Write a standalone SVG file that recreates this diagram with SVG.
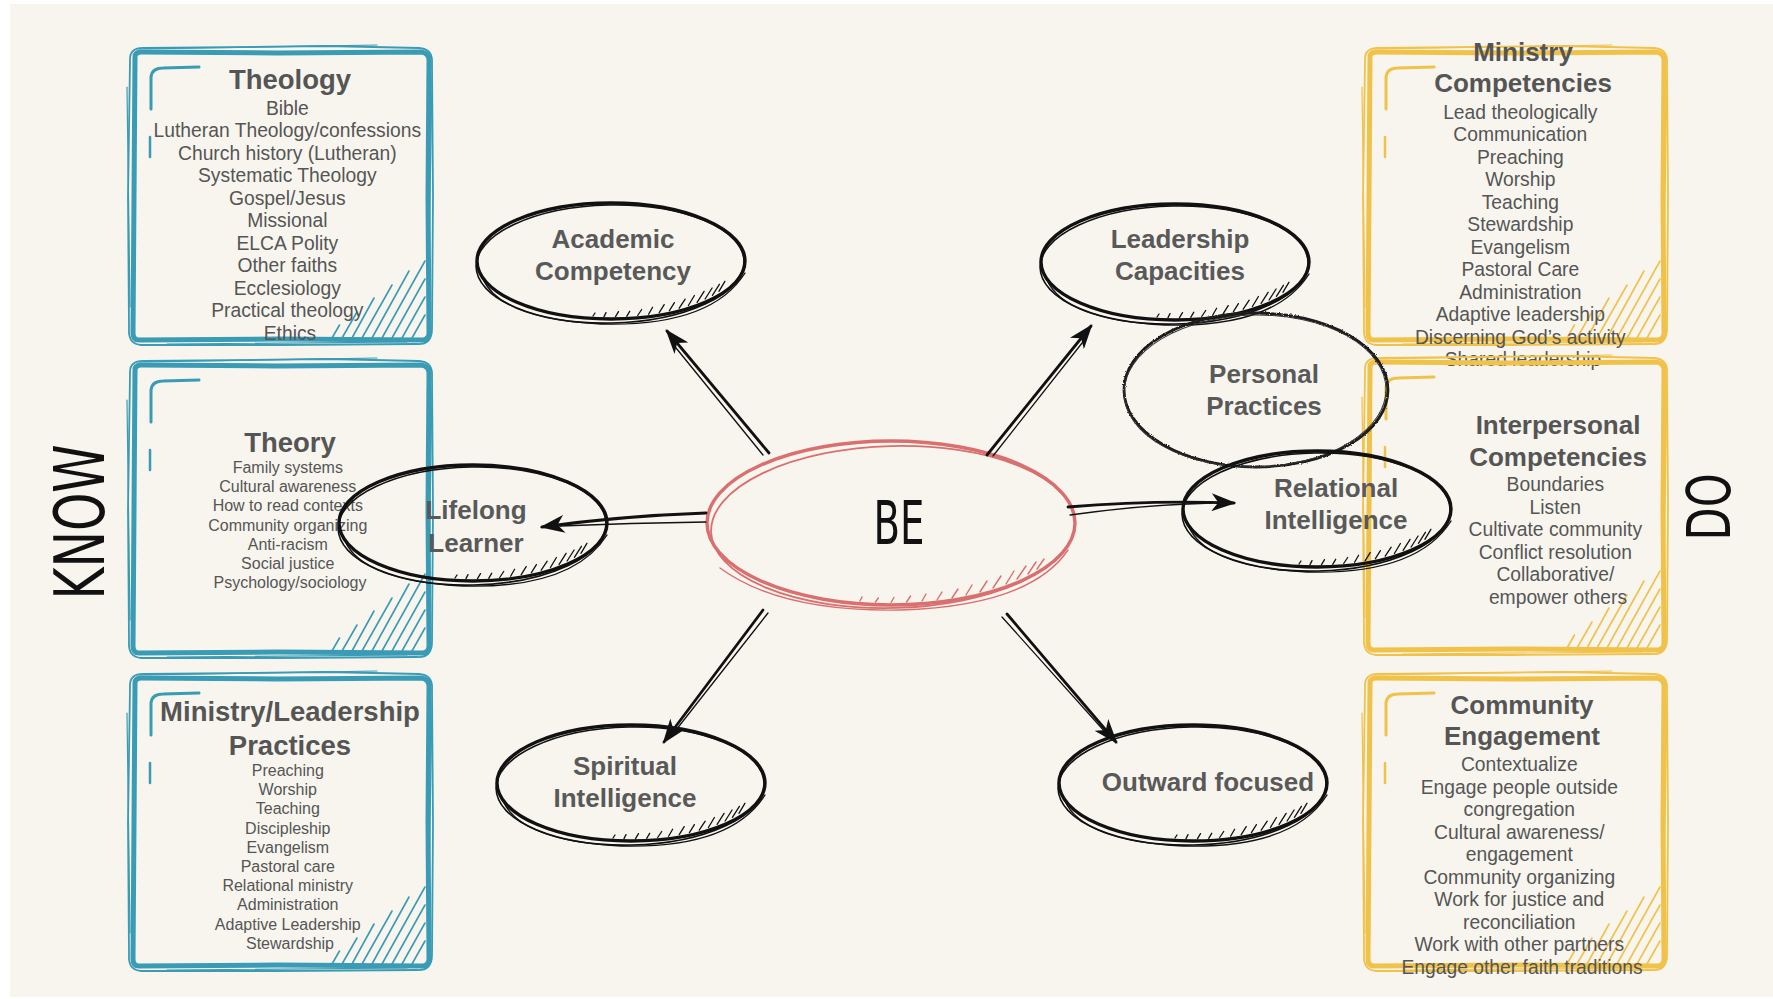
<svg xmlns="http://www.w3.org/2000/svg" xmlns:xlink="http://www.w3.org/1999/xlink" width="1773" height="999" viewBox="0 0 1773 999">
<style>
.t{font-family:"Liberation Sans",Arial,Helvetica,sans-serif;fill:#555;text-anchor:middle;dominant-baseline:central}
.h1{font-weight:bold;font-size:27.5px}
.h2{font-weight:bold;font-size:26px}
.i19{font-size:19.3px}
.i16{font-size:16px}
.lab{font-weight:bold;font-size:26px;fill:#595959}
.big{font-family:"Liberation Sans Narrow","DejaVu Sans Condensed",sans-serif;fill:#111;text-anchor:middle}
.conn path{fill:none;stroke:#111;stroke-linecap:round}
</style>
<defs>
<filter id="rough" x="-10%" y="-10%" width="120%" height="120%">
<feTurbulence type="fractalNoise" baseFrequency="0.9" numOctaves="2" seed="3"/>
<feDisplacementMap in="SourceGraphic" scale="2.5" xChannelSelector="R" yChannelSelector="G"/>
</filter>
<marker id="arr" viewBox="0 0 22 16" refX="20" refY="8" markerWidth="25" markerHeight="18" markerUnits="userSpaceOnUse" orient="auto">
<path d="M0,0 L22,8 L0,16 L6,8 Z" fill="#111"/>
</marker>
<g id="boxShape" fill="none" stroke="currentColor" stroke-linecap="round" stroke-linejoin="round">
<path d="M8,10 Q8,5 14,5 L150,6 L294,5 Q302,6 302,13 L301,150 L302,286 Q302,293 295,293 L150,292 L12,293 Q6,293 6,286 L7,150 Z" stroke-width="5"/>
<path d="M3,14 Q2,0 18,1 L200,-1 L292,1 Q306,2 305,16 L306,150 L305,282 Q305,298 290,297 L150,298 L14,298 Q1,297 2,282 L1,150 Z" stroke-width="1.8"/>
<path d="M12,2 L250,-2 M0,40 L3,260 M305,30 L301,270 M40,297 L280,295" stroke-width="1.2"/>
<path d="M24,62 L24,30 Q25,21 36,21 L72,20" stroke-width="3"/>
<path d="M23,90 L23,110" stroke-width="2.5"/>
<path d="M205,291 L212.5,278 M215,291 L230,265 M225,291 L247,251 M235,291 L265,238 M245,291 L282,224 M255,291 L298,214 M265,291 L298,232 M275,291 L298,250 M285,291 L298,268" stroke-width="1.6"/>
</g>
<g id="ellShape" fill="none" stroke="#111" stroke-linecap="round">
<ellipse rx="134" ry="58" stroke-width="3.4"/>
<ellipse cx="-1" cy="3" rx="134" ry="59" transform="rotate(-1.2)" stroke-width="1.6"/>
<path d="M-128,18 Q-110,58 -10,63 Q100,66 134,12" stroke-width="1.4"/>
<path d="M-18,55 l2,-3 M-7,55.6 l2,-4 M4.5,55.6 l3,-5 M15.7,55.3 l3,-5 M26.7,54.5 l4,-6 M37.6,53.2 l4,-7 M48.2,51.6 l5,-8 M58.4,49.6 l5,-8 M68.2,47.2 l6,-9 M77.4,44.5 l6,-10 M86.1,41.4 l7,-11 M94.1,38 l7,-11 M101.4,34.3 l7,-11 M107.9,30.3 l6,-10" stroke-width="1.3"/>
</g>
</defs>

<rect width="1773" height="999" fill="#ffffff"/>
<rect x="10" y="4" width="1763" height="993" fill="#f7f5ee"/>

<g id="know">
<text class="big" font-size="70" textLength="155" lengthAdjust="spacingAndGlyphs" transform="translate(79,522) rotate(-90)" y="25">KNOW</text>
</g>
<g id="do">
<text class="big" font-size="60" textLength="67" lengthAdjust="spacingAndGlyphs" transform="translate(1708,507) rotate(-90)" y="21.5">DO</text>
</g>

<g id="box-theology">
<use xlink:href="#boxShape" href="#boxShape" x="127" y="47" style="color:#3a9bb5"/>
<text class="t h1" x="290" y="79">Theology</text>
<text class="t i19">
<tspan x="290" y="107.5">Bible</tspan>
<tspan x="290" y="130">Lutheran Theology/confessions</tspan>
<tspan x="290" y="152.5">Church history (Lutheran)</tspan>
<tspan x="290" y="175">Systematic Theology</tspan>
<tspan x="290" y="197.5">Gospel/Jesus</tspan>
<tspan x="290" y="220">Missional</tspan>
<tspan x="290" y="242.5">ELCA Polity</tspan>
<tspan x="290" y="265">Other faiths</tspan>
<tspan x="290" y="287.5">Ecclesiology</tspan>
<tspan x="290" y="310">Practical theology</tspan>
<tspan x="290" y="332.5">Ethics</tspan>
</text>
</g>

<g id="box-theory">
<use xlink:href="#boxShape" href="#boxShape" x="127" y="360" style="color:#3a9bb5"/>
<text class="t h1" x="290" y="442">Theory</text>
<text class="t i16">
<tspan x="290" y="467">Family systems</tspan>
<tspan x="290" y="486.2">Cultural awareness</tspan>
<tspan x="290" y="505.4">How to read contexts</tspan>
<tspan x="290" y="524.6">Community organizing</tspan>
<tspan x="290" y="543.8">Anti-racism</tspan>
<tspan x="290" y="563">Social justice</tspan>
<tspan x="290" y="582.2">Psychology/sociology</tspan>
</text>
</g>

<g id="box-ministry-leadership">
<use xlink:href="#boxShape" href="#boxShape" x="127" y="673" style="color:#3a9bb5"/>
<text class="t h1" x="290" y="711">Ministry/Leadership</text>
<text class="t h1" x="290" y="745">Practices</text>
<text class="t i16">
<tspan x="290" y="770">Preaching</tspan>
<tspan x="290" y="789.2">Worship</tspan>
<tspan x="290" y="808.4">Teaching</tspan>
<tspan x="290" y="827.6">Discipleship</tspan>
<tspan x="290" y="846.8">Evangelism</tspan>
<tspan x="290" y="866">Pastoral care</tspan>
<tspan x="290" y="885.2">Relational ministry</tspan>
<tspan x="290" y="904.4">Administration</tspan>
<tspan x="290" y="923.6">Adaptive Leadership</tspan>
<tspan x="290" y="942.8">Stewardship</tspan>
</text>
</g>

<g id="box-ministry-competencies">
<use xlink:href="#boxShape" href="#boxShape" x="1362" y="47" style="color:#f0c24a"/>
<text class="t h2" x="1523" y="52">Ministry</text>
<text class="t h2" x="1523" y="83">Competencies</text>
<text class="t i19">
<tspan x="1523" y="111.5">Lead theologically</tspan>
<tspan x="1523" y="134">Communication</tspan>
<tspan x="1523" y="156.5">Preaching</tspan>
<tspan x="1523" y="179">Worship</tspan>
<tspan x="1523" y="201.5">Teaching</tspan>
<tspan x="1523" y="224">Stewardship</tspan>
<tspan x="1523" y="246.5">Evangelism</tspan>
<tspan x="1523" y="269">Pastoral Care</tspan>
<tspan x="1523" y="291.5">Administration</tspan>
<tspan x="1523" y="314">Adaptive leadership</tspan>
<tspan x="1523" y="336.5">Discerning God’s activity</tspan>
<tspan x="1523" y="359">Shared leadership</tspan>
</text>
</g>

<g id="box-interpersonal">
<use xlink:href="#boxShape" href="#boxShape" x="1362" y="357" style="color:#f0c24a"/>
<text class="t h2" x="1558" y="425">Interpersonal</text>
<text class="t h2" x="1558" y="457">Competencies</text>
<text class="t i19">
<tspan x="1558" y="484">Boundaries</tspan>
<tspan x="1558" y="506.5">Listen</tspan>
<tspan x="1558" y="529">Cultivate community</tspan>
<tspan x="1558" y="551.5">Conflict resolution</tspan>
<tspan x="1558" y="574">Collaborative/</tspan>
<tspan x="1558" y="596.5">empower others</tspan>
</text>
</g>

<g id="box-community">
<use xlink:href="#boxShape" href="#boxShape" x="1362" y="673" style="color:#f0c24a"/>
<text class="t h2" x="1522" y="705">Community</text>
<text class="t h2" x="1522" y="736">Engagement</text>
<text class="t i19">
<tspan x="1522" y="764">Contextualize</tspan>
<tspan x="1522" y="786.5">Engage people outside</tspan>
<tspan x="1522" y="809">congregation</tspan>
<tspan x="1522" y="831.5">Cultural awareness/</tspan>
<tspan x="1522" y="854">engagement</tspan>
<tspan x="1522" y="876.5">Community organizing</tspan>
<tspan x="1522" y="899">Work for justice and</tspan>
<tspan x="1522" y="921.5">reconciliation</tspan>
<tspan x="1522" y="944">Work with other partners</tspan>
<tspan x="1522" y="966.5">Engage other faith traditions</tspan>
</text>
</g>

<g id="node-academic">
<use xlink:href="#ellShape" href="#ellShape" transform="translate(611,261)"/>
<text class="t lab" x="613" y="239">Academic</text>
<text class="t lab" x="613" y="271">Competency</text>
</g>
<g id="node-leadership">
<use xlink:href="#ellShape" href="#ellShape" transform="translate(1175,262)"/>
<text class="t lab" x="1180" y="239">Leadership</text>
<text class="t lab" x="1180" y="271">Capacities</text>
</g>
<g id="node-personal">
<ellipse cx="1256" cy="390" rx="132" ry="77" fill="none" stroke="#1a1a1a" stroke-width="2.8" filter="url(#rough)"/>
<ellipse cx="1255" cy="391" rx="131" ry="76" fill="none" stroke="#333" stroke-width="1" transform="rotate(-1 1255 391)"/>
<text class="t lab" x="1264" y="374">Personal</text>
<text class="t lab" x="1264" y="406">Practices</text>
</g>
<g id="node-relational">
<use xlink:href="#ellShape" href="#ellShape" transform="translate(1317,509)"/>
<text class="t lab" x="1336" y="488">Relational</text>
<text class="t lab" x="1336" y="520">Intelligence</text>
</g>
<g id="node-lifelong">
<use xlink:href="#ellShape" href="#ellShape" transform="translate(473,523)"/>
<text class="t lab" x="476" y="510">Lifelong</text>
<text class="t lab" x="476" y="543">Learner</text>
</g>
<g id="node-spiritual">
<use xlink:href="#ellShape" href="#ellShape" transform="translate(631,783)"/>
<text class="t lab" x="625" y="766">Spiritual</text>
<text class="t lab" x="625" y="798">Intelligence</text>
</g>
<g id="node-outward">
<use xlink:href="#ellShape" href="#ellShape" transform="translate(1193,783)"/>
<text class="t lab" x="1208" y="782">Outward focused</text>
</g>

<g id="node-be">
<g fill="none" stroke="#d96f6f" stroke-linecap="round">
<ellipse cx="891" cy="523" rx="184" ry="82" stroke-width="3.4"/>
<ellipse cx="893" cy="527" rx="182" ry="81" transform="rotate(-1.5 893 527)" stroke-width="1.8"/>
<path d="M720,568 Q780,612 900,610 Q1030,606 1068,550" stroke-width="1.4"/>
<g transform="translate(891,523)" stroke-width="1.4">
<path d="M-31,78 l2,-4 M-15.6,79 l3,-4 M0,79.5 l3,-5 M15.6,79 l4,-6 M31,78 l4,-7 M46,77 l5,-8 M61,75 l6,-9 M75,72 l6,-10 M89,69 l7,-11 M102,65 l8,-12 M115,61 l8,-13 M126,56 l9,-13 M137,51 l8,-12 M146,46 l7,-10"/>
</g>
</g>
<text class="big" x="899" y="543.5" font-size="60" textLength="51" lengthAdjust="spacingAndGlyphs">BE</text>
</g>

<g id="connectors" class="conn">
<path d="M769,453 L667,331" stroke-width="2.8" marker-end="url(#arr)"/>
<path d="M763,455 L672,343" stroke-width="1.3"/>
<path d="M987,455 L1091,326" stroke-width="2.8" marker-end="url(#arr)"/>
<path d="M993,456 L1086,338" stroke-width="1.3"/>
<path d="M706,513 Q620,516 542,527" stroke-width="2.8" marker-end="url(#arr)"/>
<path d="M706,522 Q630,523 560,526" stroke-width="1.3"/>
<path d="M1068,507 Q1150,500 1234,503" stroke-width="2.8" marker-end="url(#arr)"/>
<path d="M1070,515 Q1140,505 1212,503" stroke-width="1.3"/>
<path d="M763,610 L664,742" stroke-width="2.8" marker-end="url(#arr)"/>
<path d="M768,613 L676,730" stroke-width="1.3"/>
<path d="M1007,614 L1116,742" stroke-width="2.8" marker-end="url(#arr)"/>
<path d="M1002,617 L1106,733" stroke-width="1.3"/>
</g>
</svg>
